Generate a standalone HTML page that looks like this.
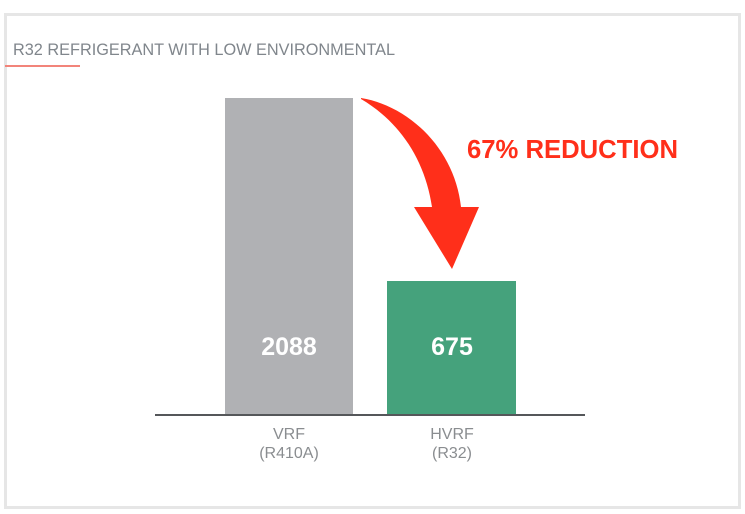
<!DOCTYPE html>
<html><head><style>
html,body{margin:0;padding:0;background:#fff;width:745px;height:514px;overflow:hidden;font-family:"Liberation Sans",sans-serif}
</style></head><body>
<svg width="745" height="514" xmlns="http://www.w3.org/2000/svg">
<rect x="5.5" y="14.5" width="734" height="493" fill="#fff" stroke="#e6e6e6" stroke-width="3"/>
<text x="13" y="55" font-size="16.3" fill="#80868c" font-family="Liberation Sans, sans-serif" textLength="382" lengthAdjust="spacingAndGlyphs">R32 REFRIGERANT WITH LOW ENVIRONMENTAL</text>
<rect x="5" y="65" width="75" height="2" fill="#f2847a"/>
<rect x="225" y="98" width="128" height="317" fill="#b0b1b4"/>
<rect x="387" y="281" width="129" height="134" fill="#45a27c"/>
<rect x="155" y="414" width="430" height="2" fill="#55575a"/>
<text x="289" y="355" font-size="25" font-weight="bold" fill="#fff" text-anchor="middle">2088</text>
<text x="452" y="355" font-size="25" font-weight="bold" fill="#fff" text-anchor="middle">675</text>
<text x="289" y="439" font-size="16" fill="#8a8d90" text-anchor="middle">VRF</text>
<text x="289" y="458" font-size="16" fill="#8a8d90" text-anchor="middle">(R410A)</text>
<text x="452" y="439" font-size="16" fill="#8a8d90" text-anchor="middle">HVRF</text>
<text x="452" y="458" font-size="16" fill="#8a8d90" text-anchor="middle">(R32)</text>
<text x="467" y="158" font-size="25.5" font-weight="bold" fill="#ff2f1a" textLength="211" lengthAdjust="spacingAndGlyphs">67% REDUCTION</text>
<path d="M361,98 C410,106 455,150 461,207 L479,207 L452,269 L414,207 L432,207 C425,160 400,122 361,99 Z" fill="#ff2f1a"/>
</svg>
</body></html>
